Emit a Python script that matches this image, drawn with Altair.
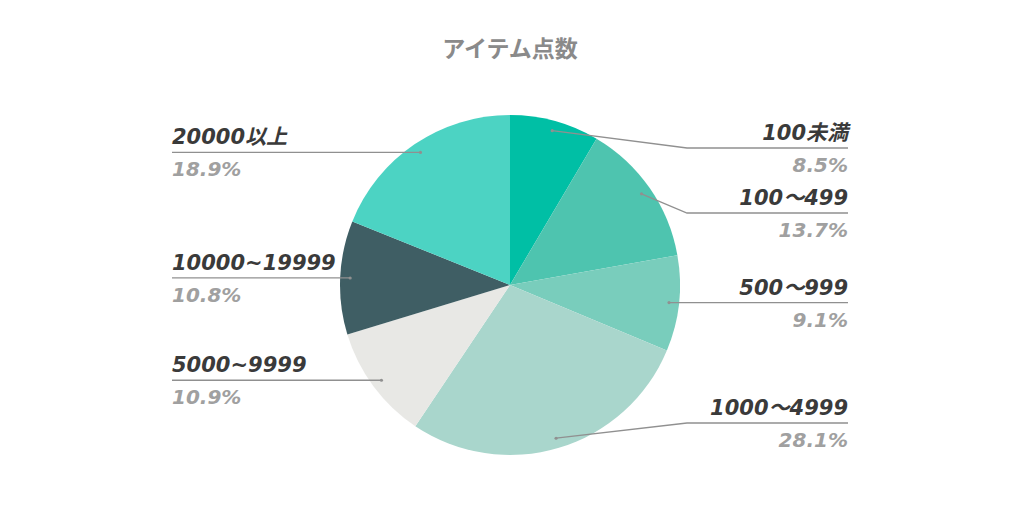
import math
import altair as alt
import pandas as pd

# ---- data ----
categories = ["100未満", "100～499", "500～999", "1000～4999", "5000~9999", "10000~19999", "20000以上"]
shares = [8.5, 13.7, 9.1, 28.1, 10.9, 10.8, 18.9]
pct_labels = ["8.5%", "13.7%", "9.1%", "28.1%", "10.9%", "10.8%", "18.9%"]
colors = ["#00BFA5", "#4EC4AF", "#79CDBC", "#A9D6CC", "#E8E8E5", "#3F5E64", "#4CD3C3"]
title_text = "アイテム点数"

# ---- layout constants (plot coordinates; page offset 8px) ----
W, H = 1008, 494
CX, CY, R = 502, 277, 170
DOT_R = 160
ELBOW = 177
RIGHT_X, LEFT_X = 840, 164
GAP, TOP, BOTTOM = 65, CY - 137, CY + 138

total = sum(shares)
rows, line_rows = [], []
cum = 0.0
for i, (c, v, p) in enumerate(zip(categories, shares, pct_labels)):
    mid = (cum + v / 2) / total * 2 * math.pi
    cum += v
    dx, dy = CX + DOT_R * math.sin(mid), CY - DOT_R * math.cos(mid)
    side = "right" if math.sin(mid) > 0 else "left"
    rows.append(dict(idx=i, cat=c, val=v, pct=p, dotx=dx, doty=dy, side=side))

# label layout: clamp and push apart per side
for side in ("right", "left"):
    grp = sorted([r for r in rows if r["side"] == side], key=lambda r: r["doty"])
    ys = [min(max(r["doty"], TOP), BOTTOM) for r in grp]
    for k in range(1, len(ys)):
        ys[k] = max(ys[k], ys[k - 1] + GAP)
    for k in range(len(ys) - 2, -1, -1):
        ys[k] = min(ys[k], ys[k + 1] - GAP)
    for r, y in zip(grp, ys):
        r["ly"] = y

for r in rows:
    if r["side"] == "right":
        ex, lx = CX + ELBOW, RIGHT_X
    else:
        ex, lx = CX - ELBOW, LEFT_X
    r["lx"] = lx
    r["nameY"] = r["ly"] - 8
    r["pctY"] = r["ly"] + 24
    for k, (x, y) in enumerate([(r["dotx"], r["doty"]), (ex, r["ly"]), (lx, r["ly"])]):
        line_rows.append(dict(cat=r["cat"], k=k, x=x, y=y))

df = pd.DataFrame(rows)
lines_df = pd.DataFrame(line_rows)

LABEL_FONT = "'DejaVu Sans', 'Noto Sans CJK JP', sans-serif"
TITLE_FONT = "'Noto Sans CJK JP', sans-serif"

pie = alt.Chart(df).mark_arc(radius=R, stroke=None).encode(
    theta=alt.Theta("val:Q", stack=True),
    order=alt.Order("idx:Q"),
    color=alt.Color("cat:N", scale=alt.Scale(domain=categories, range=colors), legend=None),
    x=alt.value(CX),
    y=alt.value(CY),
)

leaders = alt.Chart(lines_df).mark_line(color="#909090", strokeWidth=1.3).encode(
    x=alt.X("x:Q", scale=None),
    y=alt.Y("y:Q", scale=None),
    detail="cat:N",
    order="k:Q",
)

dots = alt.Chart(df).mark_circle(color="#909090", size=10, opacity=1).encode(
    x=alt.X("dotx:Q", scale=None),
    y=alt.Y("doty:Q", scale=None),
)

def label_layers(side, align):
    base = alt.Chart(df).transform_filter(alt.datum.side == side)
    name = base.mark_text(align=align, baseline="alphabetic", font=LABEL_FONT, fontSize=21,
                          fontWeight="bold", fontStyle="italic", color="#3a3a3a").encode(
        x=alt.X("lx:Q", scale=None), y=alt.Y("nameY:Q", scale=None), text="cat:N")
    pct = base.mark_text(align=align, baseline="alphabetic", font=LABEL_FONT, fontSize=20,
                         fontWeight="bold", fontStyle="italic", color="#a0a0a0").encode(
        x=alt.X("lx:Q", scale=None), y=alt.Y("pctY:Q", scale=None), text="pct:N")
    return name + pct

title = alt.Chart(pd.DataFrame({"t": [title_text]})).mark_text(
    align="center", baseline="alphabetic", font=TITLE_FONT, fontSize=23, fontWeight="bold",
    color="#8a8a8a").encode(x=alt.value(CX), y=alt.value(49), text="t:N")

chart = alt.layer(pie, leaders, dots, label_layers("right", "right"),
                  label_layers("left", "left"), title).properties(
    width=W, height=H, padding=0, autosize=alt.AutoSizeParams(type="none"),
).configure_view(stroke=None)

chart.save("out.html", embed_options={"renderer": "svg", "actions": False})
